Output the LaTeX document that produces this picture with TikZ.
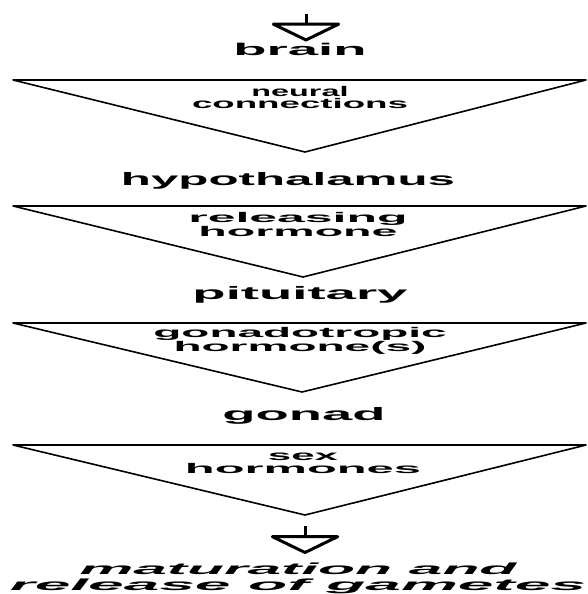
\documentclass[tikz,border=0pt]{standalone}
\usepackage{fontspec}
\setmainfont{Liberation Sans}
\usepackage{graphicx}
\usetikzlibrary{arrows.meta}
\newcommand{\stretchto}[2]{\resizebox{#1}{\height}{#2}}
\tikzset{
	wedge/.style={draw, line width=1.6pt, line join=round},
	organ/.style={inner sep=0pt, anchor=base, font=\fontsize{18}{18}\selectfont\bfseries},
	signal/.style={inner sep=0pt, anchor=north, align=center, font=\fontsize{14}{12.5}\selectfont\bfseries},
	flow/.style={line width=3pt, -{Triangle[open, round, width=78pt, length=19pt]}}
}
\begin{document}
\begin{tikzpicture}[x=1pt, y=-1pt]
		\useasboundingbox (0,0) rectangle (587,594);
		\coordinate (in) at (306,14);
		\node[organ, font=\fontsize{17}{17}\selectfont\bfseries] (brain) at (300,56) {\stretchto{133pt}{brain}};
		
		\coordinate (l1) at (13,80);
		\coordinate (r1) at (586,80);
		\coordinate (a1) at (305,152);
		\node[signal] (neural) at (300,86) {\stretchto{97pt}{neural}\\\stretchto{216pt}{connections}};
		\node[organ] (hypo) at (288,185) {\stretchto{334pt}{hypothalamus}};
		
		\coordinate (l2) at (13,206);
		\coordinate (r2) at (586,206);
		\coordinate (a2) at (303,277);
		\node[signal] (releasing) at (298,212) {\stretchto{219pt}{releasing}\\\stretchto{199pt}{hormone}};
		\node[organ] (pituitary) at (300,299) {\stretchto{215pt}{pituitary}};
		
		\coordinate (l3) at (13,323);
		\coordinate (r3) at (586,323);
		\coordinate (a3) at (302,392);
		\node[signal] (gonadotropic) at (300,327) {\stretchto{293pt}{gonadotropic}\\\stretchto{253pt}{hormone(s)}};
		\node[organ] (gonad) at (304,420) {\stretchto{163pt}{gonad}};
		
		\coordinate (l4) at (13,445);
		\coordinate (r4) at (586,445);
		\coordinate (a4) at (305,515);
		\node[signal] (sex) at (303,453) {\stretchto{70pt}{sex}\\\stretchto{236pt}{hormones}};
		\node[inner sep=0pt, anchor=north, align=center, font=\fontsize{16}{16}\selectfont\bfseries\itshape] (gametes) at (298,563) {\stretchto{437pt}{maturation and}\\\stretchto{576pt}{release of gametes}};
		
		\draw[wedge] (l1) -- (r1) -- (a1) -- cycle;
		\draw[wedge] (l2) -- (r2) -- (a2) -- cycle;
		\draw[wedge] (l3) -- (r3) -- (a3) -- cycle;
		\draw[wedge] (l4) -- (r4) -- (a4) -- cycle;
		
		\draw[flow, shorten >=2pt] (in) -- (in |- brain.north);
		\draw[flow, shorten <=11pt, shorten >=9pt] (a4) -- (a4 |- gametes.north);
	\end{tikzpicture}
\end{document}
